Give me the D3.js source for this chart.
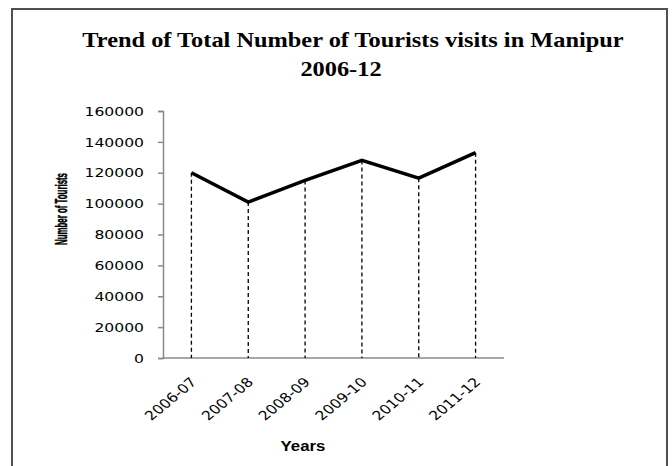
<!DOCTYPE html>
<html>
<head>
<meta charset="utf-8">
<script src="https://cdn.jsdelivr.net/npm/d3@7"></script>
<style>
  body { margin: 0; background: #fff; }
  svg { display: block; }
</style>
</head>
<body>
<div id="chart"></div>
<script>
// data
var years = ["2006-07", "2007-08", "2008-09", "2009-10", "2010-11", "2011-12"];
var tourists = [120000, 101000, 115000, 128000, 116500, 133000];
var yTicks = [0, 20000, 40000, 60000, 80000, 100000, 120000, 140000, 160000];

var width = 672, height = 466;
var stretch = 1.2; // the picture is a bit wider than tall glyphs suggest

var svg = d3.select("#chart").append("svg")
    .attr("width", width)
    .attr("height", height);

// outer frame
svg.append("rect")
    .attr("x", 12).attr("y", 9)
    .attr("width", 655).attr("height", 470)
    .attr("fill", "#fff")
    .attr("stroke", "#505050")
    .attr("stroke-width", 2);

// titles
svg.append("text")
    .attr("transform", "translate(353,47) scale(1.16,1)")
    .attr("text-anchor", "middle")
    .style("font-family", "'Liberation Serif', 'Times New Roman', serif")
    .style("font-weight", "bold")
    .style("font-size", "21px")
    .text("Trend of Total Number of Tourists visits in Manipur");

svg.append("text")
    .attr("transform", "translate(341,76) scale(1.16,1)")
    .attr("text-anchor", "middle")
    .style("font-family", "'Liberation Serif', 'Times New Roman', serif")
    .style("font-weight", "bold")
    .style("font-size", "21px")
    .text("2006-12");

// scales
var x = d3.scalePoint().domain(years).range([163, 504]).padding(0.5);
var y = d3.scaleLinear().domain([0, 160000]).range([358, 111]);

// y axis
var yAxis = d3.axisLeft(y).tickValues(yTicks).tickSize(5).tickFormat(d3.format("d"));
var gy = svg.append("g")
    .attr("transform", "translate(163,0)")
    .call(yAxis);
gy.select(".domain").attr("stroke", "#8a8a8a").attr("stroke-width", 1.5);
gy.selectAll(".tick line").attr("stroke", "#8a8a8a").attr("stroke-width", 1.5);
gy.selectAll(".tick text")
    .attr("x", null)
    .attr("transform", "translate(-19,0) scale(" + stretch + ",1)")
    .attr("fill", "#000")
    .style("font-family", "'DejaVu Sans', Verdana, sans-serif")
    .style("font-size", "13px");

// x axis line
svg.append("line")
    .attr("x1", 163).attr("x2", 504)
    .attr("y1", y(0)).attr("y2", y(0))
    .attr("stroke", "#8a8a8a")
    .attr("stroke-width", 1.5);

// drop lines
svg.append("g").selectAll("line")
    .data(years)
    .enter().append("line")
    .attr("x1", function(d) { return x(d); })
    .attr("x2", function(d) { return x(d); })
    .attr("y1", function(d, i) { return y(tourists[i]); })
    .attr("y2", y(0))
    .attr("stroke", "#000")
    .attr("stroke-width", 1.3)
    .attr("stroke-dasharray", "4,3");

// trend line
var line = d3.line()
    .x(function(d, i) { return x(years[i]); })
    .y(function(d) { return y(d); });

svg.append("path")
    .datum(tourists)
    .attr("d", line)
    .attr("fill", "none")
    .attr("stroke", "#000")
    .attr("stroke-width", 3.5)
    .attr("stroke-linejoin", "miter");

// category labels, rotated
svg.append("g").selectAll("text")
    .data(years)
    .enter().append("text")
    .attr("transform", function(d) {
        return "translate(" + (x(d) + 6) + "," + (y(0) + 25) + ") scale(" + stretch + ",1) rotate(-45)";
    })
    .attr("text-anchor", "end")
    .style("font-family", "'DejaVu Sans', Verdana, sans-serif")
    .style("font-size", "13px")
    .text(function(d) { return d; });

// axis titles
svg.append("text")
    .attr("transform", "translate(303,451) scale(" + stretch + ",1)")
    .attr("text-anchor", "middle")
    .style("font-family", "'Liberation Sans', Arial, sans-serif")
    .style("font-weight", "bold")
    .style("font-size", "14px")
    .text("Years");

svg.append("text")
    .attr("transform", "translate(67,209) scale(" + stretch + ",1) rotate(-90)")
    .attr("text-anchor", "middle")
    .attr("textLength", 72)
    .attr("lengthAdjust", "spacingAndGlyphs")
    .attr("stroke", "#000")
    .attr("stroke-width", 0.4)
    .style("font-family", "'Liberation Sans', Arial, sans-serif")
    .style("font-weight", "bold")
    .style("font-size", "13px")
    .text("Number of Tourists");
</script>
</body>
</html>
